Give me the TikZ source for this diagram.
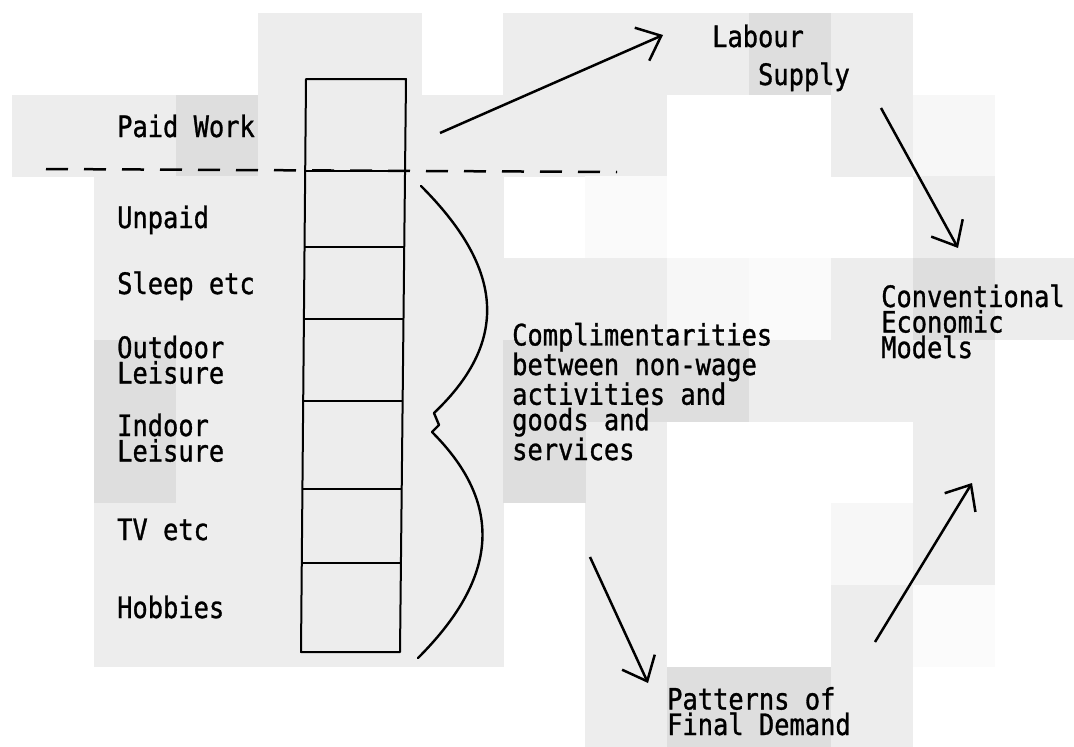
\documentclass[tikz,border=0pt]{standalone}
\usepackage{fontspec}
\newfontfamily\plotfont[FakeStretch=0.861,FakeBold=1]{DejaVu Sans Mono}
\usetikzlibrary{arrows.meta,calc}

\begin{document}
\begin{tikzpicture}[x=1pt,y=-1pt,
  lbl/.style={anchor=base west, inner sep=0pt, align=left,
    font=\plotfont\fontsize{29.5}{25.5}\selectfont},
  tile/.style={fill=black!#1},
  cell/.style={line width=2pt, line join=round},
  ink/.style={line width=2.4pt, line join=round, line cap=round},
  flow/.style={line width=2.5pt,
    -{Straight Barb[length=21pt,width=36pt,line width=2.5pt]}},
  sepline/.style={line width=2.5pt, dash pattern=on 22pt off 16pt},
]
\useasboundingbox (0,0) rectangle (1074,747);

% light shaded backdrop squares
\foreach \r/\cols/\s in {
  0/{3,4,6,7,8,10}/7, 0/{9}/13,
  1/{0,1,3,4,5,6,7,10}/7, 1/{2}/13, 1/{11}/3,
  2/{1,2,3,4,5,11}/7, 2/{7}/2,
  3/{1,2,3,4,5,6,7,10,12}/7, 3/{8}/3, 3/{9}/2, 3/{11}/13,
  4/{2,3,4,5,9,10,11}/7, 4/{1,6,7,8}/13,
  5/{2,3,4,5,7,11}/7, 5/{1,6}/13,
  6/{1,2,3,4,5,7,11}/7, 6/{10}/3,
  7/{1,2,3,4,5,7,10}/7, 7/{11}/1.5,
  8/{7,10}/7, 8/{8,9}/13}
  {\foreach \c in \cols
     {\fill[tile=\s] ({12+81.9*\c},{13+81.7*\r}) rectangle ++(82.1,81.9);}}

% time-use column
\coordinate (tl) at (306,79);
\coordinate (tr) at (406,79);
\coordinate (bl) at (301,652);
\coordinate (br) at (400,652);
\draw[cell] (tl) -- (tr) -- (br) -- (bl) -- cycle;
\foreach \t in {0.1606,0.2932,0.4188,0.5620,0.7155,0.8447}
  \draw[cell] ($(tl)!\t!(bl)$) -- ($(tr)!\t!(br)$);

% paid / unpaid separator
\coordinate (sepL) at (46,169);
\coordinate (sepR) at (617,172);
\draw[sepline] (sepL) -- (sepR);

% activity labels (base = baseline of the last line)
\node[lbl] (paid)    at (117,137) {Paid Work};
\node[lbl] (unpaid)  at (117,228) {Unpaid};
\node[lbl] (sleep)   at (117,294) {Sleep etc};
\node[lbl] (outdoor) at (117,383.5) {Outdoor\\Leisure};
\node[lbl] (indoor)  at (117,461.5) {Indoor\\Leisure};
\node[lbl] (tv)      at (117,540) {TV etc};
\node[lbl] (hobbies) at (117,618) {Hobbies};

% right-hand labels
\node[lbl] (labour) at (712,85) {Labour\\[12.5pt]\phantom{Lab}Supply};
\node[lbl] (conv)   at (881,358) {Conventional\\Economic\\Models};
\node[lbl] (compl)  at (512,460) {Complimentarities\\between non-wage\\activities and\\goods and\\services};
\node[lbl] (final)  at (667,735) {Patterns of\\Final Demand};

% brace grouping the unpaid activities
\draw[ink] (421,186) .. controls (500,265) and (513,338) .. (434,413)
  -- (439,425) -- (432,432)
  .. controls (508,508) and (494,582) .. (418,658);

% flows
\coordinate (a1s) at (440,133); \coordinate (a1e) at (663,35);
\coordinate (a2s) at (881,108); \coordinate (a2e) at (958,248);
\coordinate (a3s) at (590,557); \coordinate (a3e) at (648,683);
\coordinate (a4s) at (875,642); \coordinate (a4e) at (972,483);
\draw[flow] (a1s) -- (a1e);
\draw[flow] (a2s) -- (a2e);
\draw[flow] (a3s) -- (a3e);
\draw[flow] (a4s) -- (a4e);
\end{tikzpicture}
\end{document}
